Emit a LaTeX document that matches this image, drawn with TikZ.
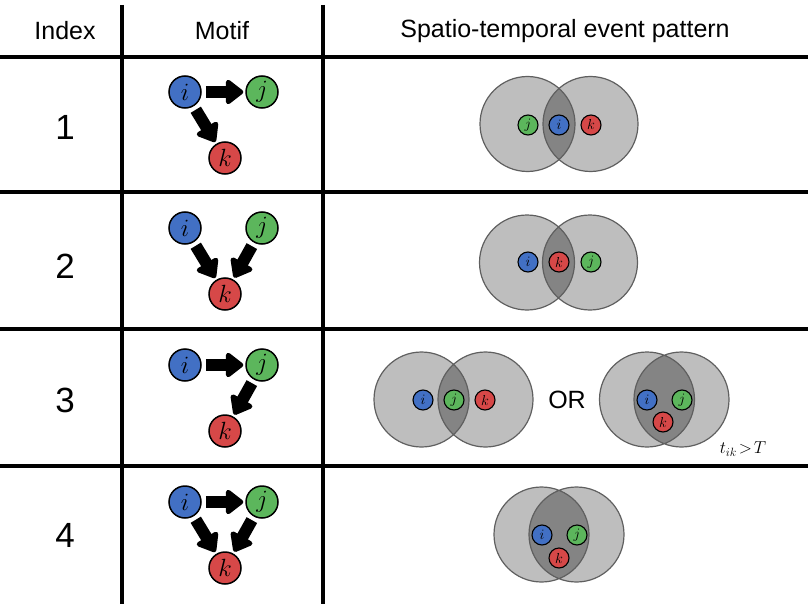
\documentclass[tikz,border=0pt]{standalone}
\usepackage{fontspec}
\setmainfont{Liberation Sans}
\usetikzlibrary{arrows.meta}

\definecolor{evblue}{RGB}{66,112,196}
\definecolor{evgreen}{RGB}{92,182,92}
\definecolor{evred}{RGB}{214,72,72}
\definecolor{zonegray}{RGB}{190,190,190}
\definecolor{lensgray}{RGB}{132,132,132}
\definecolor{zoneedge}{RGB}{95,95,95}

\tikzset{
  event/.style={circle, draw=black, line width=1.5pt, minimum size=32pt, inner sep=0pt, font=\fontsize{24}{24}\selectfont},
  smallevent/.style={circle, draw=black, line width=1.1pt, minimum size=20pt, inner sep=0pt, font=\fontsize{15}{15}\selectfont},
  motifarrow/.style={line width=12pt, -{Triangle[round,length=19pt,width=28pt]}, shorten <=4pt, shorten >=2pt},
  tablerule/.style={line width=3.5pt},
  headtext/.style={font=\fontsize{25}{25}\selectfont},
  idxtext/.style={font=\fontsize{35}{35}\selectfont},
}

\begin{document}
\begin{tikzpicture}[x=1pt,y=-1pt]
    \newcommand{\zrad}{47.5} % radius of the grey zones
    \newcommand{\zonepair}[3]{% left x, right x, y
      \fill[zonegray] (#1,#3) circle (\zrad) (#2,#3) circle (\zrad);
      \begin{scope}
        \clip (#1,#3) circle (\zrad);
        \fill[lensgray] (#2,#3) circle (\zrad);
      \end{scope}
      \draw[zoneedge, line width=1.2pt] (#1,#3) circle (\zrad) (#2,#3) circle (\zrad);
    }

    \useasboundingbox (0,0) rectangle (810,604);

    % table rules
    \foreach \y in {57,192,329,466}
      \draw[tablerule] (0,\y) -- (808,\y);
    \draw[tablerule] (122,5) -- (122,604);
    \draw[tablerule] (323,5) -- (323,604);

    % header
    \node[headtext] (hidx) at (65,31) {Index};
    \node[headtext] (hmotif) at (222,31) {Motif};
    \node[headtext] (hpat) at (565,31) {Spatio-temporal event pattern};

    % index column
    \foreach \n/\y in {1/127,2/266,3/400,4/535}
      \node[idxtext] (idx\n) at (65,\y) {\n};

    % motif nodes
    \foreach \r/\y in {1/92,2/228,3/365,4/502} {
      \node[event, fill=evblue] (i\r) at (185,\y) {$i$};
      \node[event, fill=evgreen] (j\r) at (262,\y) {$j$};
      \node[event, fill=evred] (k\r) at (225,\y+66) {$k$};
    }

    % motif arrows
    \draw[motifarrow] (i1) -- (j1);
    \draw[motifarrow] (i1) -- (k1);
    \draw[motifarrow] (i2) -- (k2);
    \draw[motifarrow] (j2) -- (k2);
    \draw[motifarrow] (i3) -- (j3);
    \draw[motifarrow] (j3) -- (k3);
    \draw[motifarrow] (i4) -- (j4);
    \draw[motifarrow] (i4) -- (k4);
    \draw[motifarrow] (j4) -- (k4);

    % pattern 1
    \zonepair{527.5}{590.5}{124}
    \node[smallevent, fill=evgreen] (pj1) at (528,125) {$j$};
    \node[smallevent, fill=evblue] (pi1) at (559,125) {$i$};
    \node[smallevent, fill=evred] (pk1) at (591,125) {$k$};

    % pattern 2
    \zonepair{527}{590}{262.5}
    \node[smallevent, fill=evblue] (pi2) at (528,262) {$i$};
    \node[smallevent, fill=evred] (pk2) at (559,262) {$k$};
    \node[smallevent, fill=evgreen] (pj2) at (591,262) {$j$};

    % pattern 3, two cases
    \zonepair{421.5}{485.5}{399.5}
    \node[smallevent, fill=evblue] (pi3a) at (423,400) {$i$};
    \node[smallevent, fill=evgreen] (pj3a) at (454,400) {$j$};
    \node[smallevent, fill=evred] (pk3a) at (485,400) {$k$};
    \node[headtext] (orlab) at (567,400) {OR};
    \zonepair{647}{681.5}{399.5}
    \node[smallevent, fill=evblue] (pi3b) at (647,400) {$i$};
    \node[smallevent, fill=evgreen] (pj3b) at (682,400) {$j$};
    \node[smallevent, fill=evred] (pk3b) at (663,422) {$k$};
    \node[font=\fontsize{18}{18}\selectfont] (tlab) at (743,449) {$t_{ik}\!>\!T$};

    % pattern 4
    \zonepair{541.5}{576.5}{534.5}
    \node[smallevent, fill=evblue] (pi4) at (542,535) {$i$};
    \node[smallevent, fill=evgreen] (pj4) at (577,535) {$j$};
    \node[smallevent, fill=evred] (pk4) at (559,558) {$k$};
\end{tikzpicture}
\end{document}
